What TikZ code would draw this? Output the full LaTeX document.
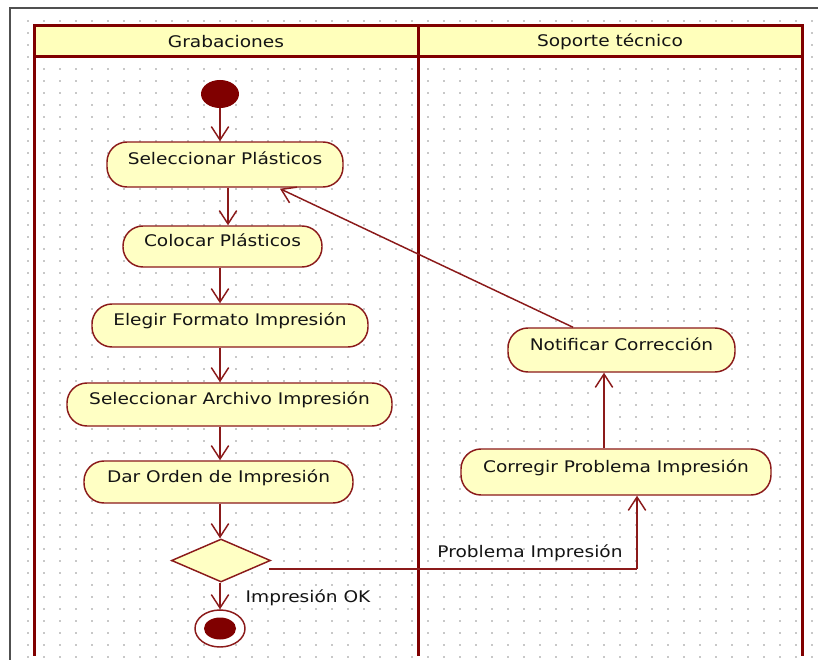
\documentclass[tikz,border=0pt]{standalone}
\usepackage{fontspec}
\setmainfont[FakeStretch=1.16]{DejaVu Sans}
\usetikzlibrary{arrows.meta,shapes.geometric,calc}

\definecolor{lanered}{HTML}{800000}
\definecolor{edgered}{HTML}{8B1A1A}
\definecolor{actfill}{HTML}{FFFFC4}
\definecolor{hdrfill}{HTML}{FFFFBB}
\definecolor{dotgray}{HTML}{C8C8C8}
\definecolor{framegray}{HTML}{505050}
\definecolor{ink}{HTML}{141414}

\tikzset{
  lbl/.style={font=\fontsize{12pt}{14pt}\selectfont, text=ink, inner sep=0pt},
  act/.style={lbl, draw=edgered, line width=1.1pt, fill=actfill,
    rounded corners=15pt, text height=8pt, text depth=8pt},
  lanehdr/.style={lbl, draw=lanered, line width=2.25pt, fill=hdrfill,
    minimum width=288pt, minimum height=23.25pt},
  laneline/.style={draw=lanered, line width=2.25pt},
  flow/.style={draw=edgered, line width=1.1pt,
    -{Straight Barb[length=10pt,width=13pt,line width=1.1pt]}},
  plain/.style={draw=edgered, line width=1.1pt},
}

\begin{document}
\begin{tikzpicture}[x=0.75pt,y=-0.75pt]
\useasboundingbox (0,0) rectangle (818,660);
\fill[white] (0,0) rectangle (818,660);

% grid of dots
\foreach \gx in {28,44,...,816}
  \foreach \gy in {21,33,...,658}
    \fill[dotgray] (\gx-0.7,\gy-0.7) rectangle ++(1.5,1.5);

% outer frame
\draw[framegray, line width=1.6pt] (10,660) -- (10,8) -- (818,8);

% swimlanes
\draw[laneline] (34,26) -- (34,656);
\draw[laneline] (418,26) -- (418,656);
\draw[laneline] (802,26) -- (802,656);
\node[lanehdr] (laneA) at (226,41.5) {Grabaciones};
\node[lanehdr] (laneB) at (610,41.5) {Soporte técnico};

% activities
\node[ellipse, fill=lanered, minimum width=28.5pt, minimum height=21pt, inner sep=0pt] (start) at (220,94) {};
\node[act, minimum width=177pt, minimum height=33.75pt] (selP) at (225,164.5) {Seleccionar Plásticos};
\node[act, minimum width=149.25pt, minimum height=30.75pt] (colP) at (222.5,246.5) {Colocar Plásticos};
\node[act, minimum width=207pt, minimum height=32.25pt] (elegir) at (230,325.5) {Elegir Formato Impresión};
\node[act, minimum width=243.75pt, minimum height=32.25pt] (selA) at (229.5,404.5) {Seleccionar Archivo Impresión};
\node[act, minimum width=201.75pt, minimum height=31.5pt] (dar) at (218.5,482) {Dar Orden de Impresión};
\node[diamond, draw=edgered, line width=1.1pt, fill=actfill, inner sep=0pt,
      minimum width=74.25pt, minimum height=32.25pt] (dec) at (221,560.5) {};
\node[ellipse, draw=edgered, line width=1.1pt, fill=white, inner sep=0pt,
      minimum width=37.5pt, minimum height=27.75pt] (final) at (220,628.5) {};
\node[ellipse, fill=lanered, inner sep=0pt, minimum width=24pt, minimum height=16.5pt] (finalIn) at (220,628.5) {};

\node[act, minimum width=170.25pt, minimum height=33pt] (notif) at (621.5,350) {Notificar Corrección};
\node[act, minimum width=232.5pt, minimum height=34.5pt] (corr) at (616,472) {Corregir Problema Impresión};

% guard labels
\node[lbl] (lblOK) at (308,598) {Impresión OK};
\node[lbl] (lblPb) at (530,553) {Problema Impresión};

% helper columns
\coordinate (xs) at (228,0);
\coordinate (xc) at (604,0);
\coordinate (pbCorner) at (637,569);

% control flow
\draw[flow] (start) -- (selP.north -| start);
\draw[flow] (selP.south -| xs) -- (colP.north -| xs);
\draw[flow] (colP.south -| start) -- (elegir.north -| start);
\draw[flow] (elegir.south -| start) -- (selA.north -| start);
\draw[flow] (selA.south -| start) -- (dar.north -| start);
\draw[flow] (dar.south -| start) -- (dec.north -| start);
\draw[flow] (dec.south -| start) -- (final.north -| start);
\draw[plain] (dec.east |- pbCorner) ++(-2,0) -- (pbCorner);
\draw[flow] (pbCorner) -- (corr.south -| pbCorner);
\draw[flow] (corr.north -| xc) -- (notif.south -| xc);
\draw[flow] ($(notif.north)+(-48.5,0)$) -- ($(selP.south)+(55,1)$);
\end{tikzpicture}
\end{document}
